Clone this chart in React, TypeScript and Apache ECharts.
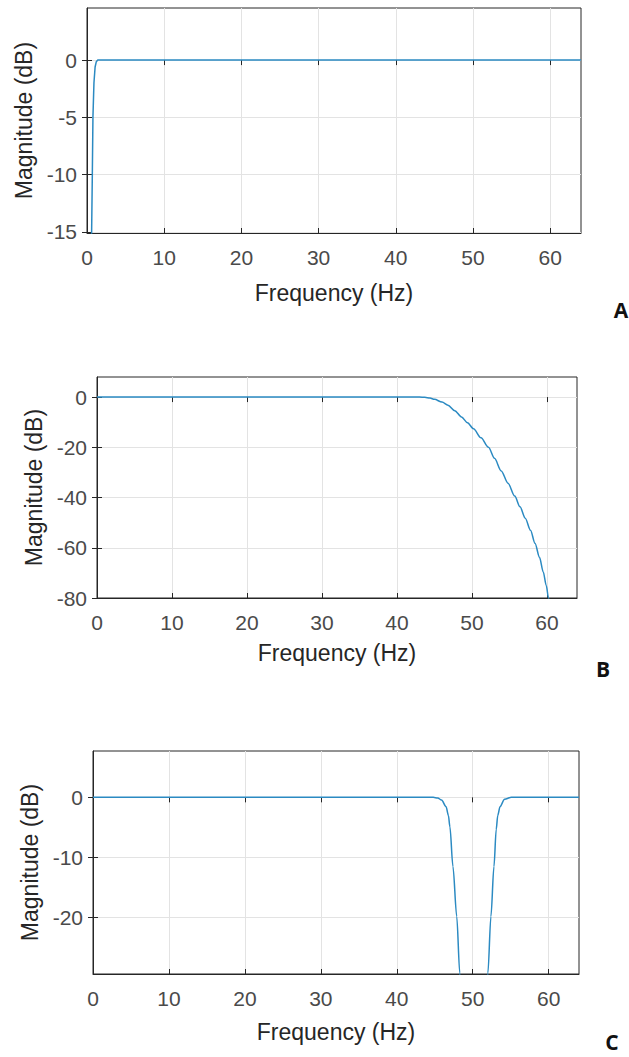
import React, { useEffect, useRef } from "react";
import * as echarts from "echarts";

// ---- data ----
const xTickValues = [0, 10, 20, 30, 40, 50, 60];
const xMin = 0;
const xMax = 64;

const freqA = [0, 0.55, 0.6, 0.69, 0.77, 0.9, 1.05, 1.2, 1.4, 10, 20, 30, 40, 50, 60, 64];
const magA = [-40, -16, -15, -10, -5, -2, -0.6, -0.15, 0, 0, 0, 0, 0, 0, 0, 0];
const yTicksA = [-15, -10, -5, 0];
const yRangeA = [-15.1, 4.55];

const freqB = [0, 10, 20, 30, 40, 43.0, 43.7, 44.4, 45.0, 46.0, 46.8, 47.7, 48.6, 49.4, 50.2, 51.2, 52.2, 53.0, 53.9, 54.8, 55.7, 56.4, 57.1, 57.8, 58.4, 59.0, 59.5, 59.9, 60.2, 60.5];
const magB = [0, 0, 0, 0, 0, 0, -0.1, -0.4, -0.9, -2.0, -3.2, -5.4, -7.9, -10.2, -12.6, -16.2, -20, -24.4, -29.4, -34.3, -39.4, -43.7, -48.2, -53.0, -58.2, -63.8, -69.6, -75, -80, -85];
const yTicksB = [-80, -60, -40, -20, 0];
const yRangeB = [-80, 8];

const freqC = [0, 10, 20, 30, 40, 44.8, 45.4, 45.9, 46.5, 46.8, 47.0, 47.4, 47.9, 48.3, 48.6, 50, 51.7, 52.0, 52.4, 52.8, 53.1, 53.3, 53.6, 54.2, 55.1, 60, 64];
const magC = [0, 0, 0, 0, 0, 0, -0.1, -0.45, -1.55, -3.0, -4.9, -11.5, -19.8, -29.2, -36, -60, -36, -29.2, -19.8, -11.5, -5.3, -3.0, -1.55, -0.3, 0, 0, 0];
const yTicksC = [-20, -10, 0];
const yRangeC = [-29.35, 7.7];

const panelLetters = ["A", "B", "C"];
const xName = "Frequency (Hz)";
const yName = "Magnitude (dB)";

// ---- layout / style ----
const FONT = "'Liberation Sans', Arial, sans-serif";
const AXIS_COLOR = "#262626";
const LABEL_COLOR = "#4a4a4a";
const LINE_COLOR = "#2b8ac2";
const GRID_COLOR = "#e3e3e3";

const panels = [
  { freq: freqA, mag: magA, yTicks: yTicksA, yRange: yRangeA, grid: { left: 87, top: 8, width: 494, height: 225 }, xGap: 48, yGap: 49, letter: { x: 621, y: 310 }, smooth: 0 },
  { freq: freqB, mag: magB, yTicks: yTicksB, yRange: yRangeB, grid: { left: 97, top: 377, width: 480, height: 221 }, xGap: 43, yGap: 51, letter: { x: 603, y: 669 }, smooth: 0.3 },
  { freq: freqC, mag: magC, yTicks: yTicksC, yRange: yRangeC, grid: { left: 93, top: 751, width: 486, height: 223 }, xGap: 46, yGap: 50, letter: { x: 612, y: 1042 }, smooth: 0.3 },
];

function buildOption() {
  const grid: any[] = [];
  const xAxis: any[] = [];
  const yAxis: any[] = [];
  const series: any[] = [];
  const graphic: any[] = [];

  panels.forEach((p, i) => {
    grid.push({
      ...p.grid,
      show: true,
      borderColor: AXIS_COLOR,
      borderWidth: 1,
      backgroundColor: "#fff",
      containLabel: false,
    });
    const common = { gridIndex: i, type: "value" };
    xAxis.push({
      ...common,
      position: "bottom",
      min: xMin,
      max: xMax,
      name: xName,
      nameLocation: "middle",
      nameGap: p.xGap,
      nameTextStyle: { fontFamily: FONT, fontSize: 23, color: AXIS_COLOR },
      axisLine: { show: true, onZero: false, lineStyle: { color: AXIS_COLOR, width: 1 } },
      axisTick: { show: true, inside: true, length: 5, lineStyle: { color: AXIS_COLOR }, customValues: xTickValues },
      axisLabel: { show: true, margin: 14, fontFamily: FONT, fontSize: 21, color: LABEL_COLOR, customValues: xTickValues },
      splitLine: { show: true, lineStyle: { color: GRID_COLOR, width: 1 } },
    });
    xAxis.push({
      ...common,
      position: "top",
      min: xMin,
      max: xMax,
      axisLine: { show: false },
      axisTick: { show: true, inside: true, length: 5, lineStyle: { color: AXIS_COLOR }, customValues: xTickValues },
      axisLabel: { show: false, customValues: xTickValues },
      splitLine: { show: false },
    });
    yAxis.push({
      ...common,
      position: "left",
      min: p.yRange[0],
      max: p.yRange[1],
      name: yName,
      nameLocation: "middle",
      nameGap: p.yGap,
      nameTextStyle: { fontFamily: FONT, fontSize: 23, color: AXIS_COLOR },
      axisLine: { show: true, onZero: false, lineStyle: { color: AXIS_COLOR, width: 1 } },
      axisTick: { show: true, inside: true, length: 5, lineStyle: { color: AXIS_COLOR }, customValues: p.yTicks },
      axisLabel: { show: true, margin: 10, fontFamily: FONT, fontSize: 21, color: LABEL_COLOR, customValues: p.yTicks },
      splitLine: { show: true, lineStyle: { color: GRID_COLOR, width: 1 } },
    });
    yAxis.push({
      ...common,
      position: "right",
      min: p.yRange[0],
      max: p.yRange[1],
      axisLine: { show: false },
      axisTick: { show: true, inside: true, length: 5, lineStyle: { color: AXIS_COLOR }, customValues: p.yTicks },
      axisLabel: { show: false, customValues: p.yTicks },
      splitLine: { show: false },
    });
    series.push({
      type: "line",
      xAxisIndex: i * 2,
      yAxisIndex: i * 2,
      data: p.freq.map((f, k) => [f, p.mag[k]]),
      showSymbol: false,
      symbol: "none",
      clip: true,
      smooth: p.smooth,
      smoothMonotone: "x",
      lineStyle: { color: LINE_COLOR, width: 1.5 },
      z: 3,
    });
    graphic.push({
      type: "text",
      x: p.letter.x,
      y: p.letter.y,
      style: {
        text: panelLetters[i],
        fontFamily: "'Open Sans', Arial, sans-serif",
        fontWeight: "bold",
        fontSize: 21,
        fill: "#111",
        textAlign: "center",
        textVerticalAlign: "middle",
      },
    });
  });

  return {
    animation: false,
    backgroundColor: "#fff",
    grid,
    xAxis,
    yAxis,
    series,
    graphic,
  };
}

export default function App() {
  const ref = useRef<HTMLDivElement>(null);
  useEffect(() => {
    if (!ref.current) return;
    const chart = echarts.init(ref.current, null, { renderer: "svg" });
    chart.setOption(buildOption() as any);
    return () => chart.dispose();
  }, []);
  return (
    <div
      ref={ref}
      style={{ position: "absolute", left: 0, top: 0, width: 629, height: 1057, background: "#fff" }}
    />
  );
}
